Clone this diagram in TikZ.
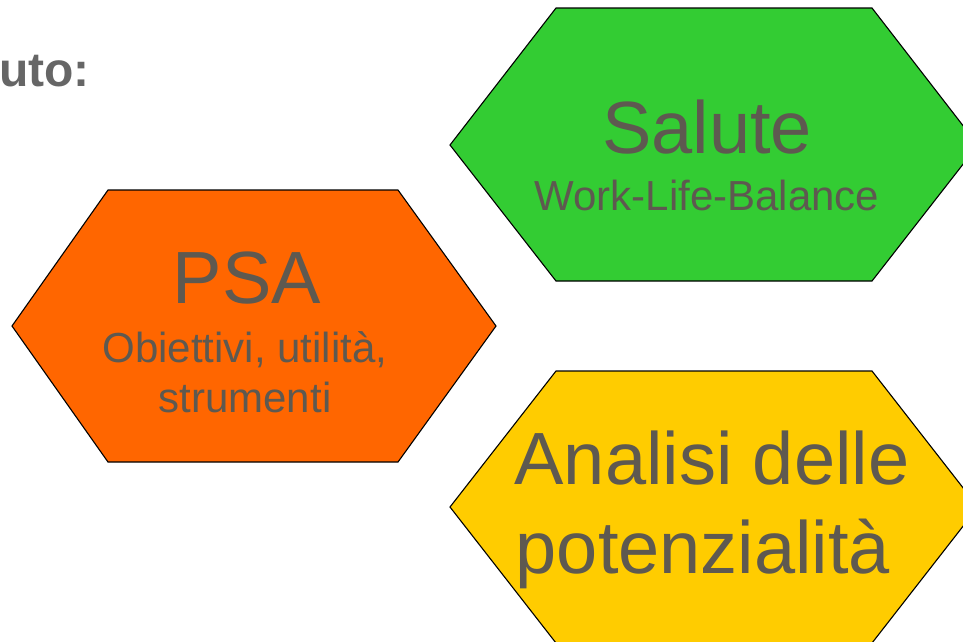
\documentclass[tikz,border=0pt]{standalone}
\usepackage{fontspec}
\setmainfont{Liberation Sans}
\definecolor{txtgray}{RGB}{94,89,80}
\definecolor{hdgray}{RGB}{102,102,102}
\definecolor{hexgreen}{RGB}{51,204,51}
\definecolor{hexorange}{RGB}{255,102,0}
\definecolor{hexyellow}{RGB}{255,204,0}
\tikzset{
  hexa/.style={draw=black, line width=1.1pt, line join=miter},
  bigtxt/.style={anchor=base, inner sep=0pt, text=txtgray, font=\fontsize{74}{89}\selectfont},
  smalltxt/.style={anchor=base, inner sep=0pt, text=txtgray, font=\fontsize{42}{50}\selectfont},
  headtxt/.style={anchor=base east, inner sep=0pt, text=hdgray, font=\fontsize{48}{58}\selectfont\bfseries}
}
\begin{document}
\begin{tikzpicture}[x=1pt,y=-1pt]
\useasboundingbox (0,0) rectangle (963,641);
\clip (0,0) rectangle (963,641);
% hexagons
\fill[hexgreen] (556,8) -- (872,8) -- (978,145) -- (872,281) -- (556,281) -- (450,145) -- cycle;
\draw[hexa] (556,8) -- (872,8) -- (978,145) -- (872,281) -- (556,281) -- (450,145) -- cycle;
\fill[hexorange] (108,190) -- (398,190) -- (496,326) -- (398,462) -- (108,462) -- (12,326) -- cycle;
\draw[hexa] (108,190) -- (398,190) -- (496,326) -- (398,462) -- (108,462) -- (12,326) -- cycle;
\fill[hexyellow] (556,371) -- (872,371) -- (978,507) -- (872,643) -- (556,643) -- (450,507) -- cycle;
\draw[hexa] (556,371) -- (872,371) -- (978,507) -- (872,643) -- (556,643) -- (450,507) -- cycle;
% texts
\node[headtxt] (head) at (90,86) {uto:};
\node[bigtxt] (salute) at (707,153) {Salute};
\node[smalltxt] (wlb) at (707,210) {Work-Life-Balance};
\node[bigtxt] (psa) at (247,303) {PSA};
\node[smalltxt] (obi) at (245,362) {Obiettivi, utilità,};
\node[smalltxt] (stru) at (245,412) {strumenti};
\node[bigtxt] (anal) at (712,484) {Analisi delle};
\node[bigtxt] (pot) at (703,573) {potenzialità};
\end{tikzpicture}
\end{document}
